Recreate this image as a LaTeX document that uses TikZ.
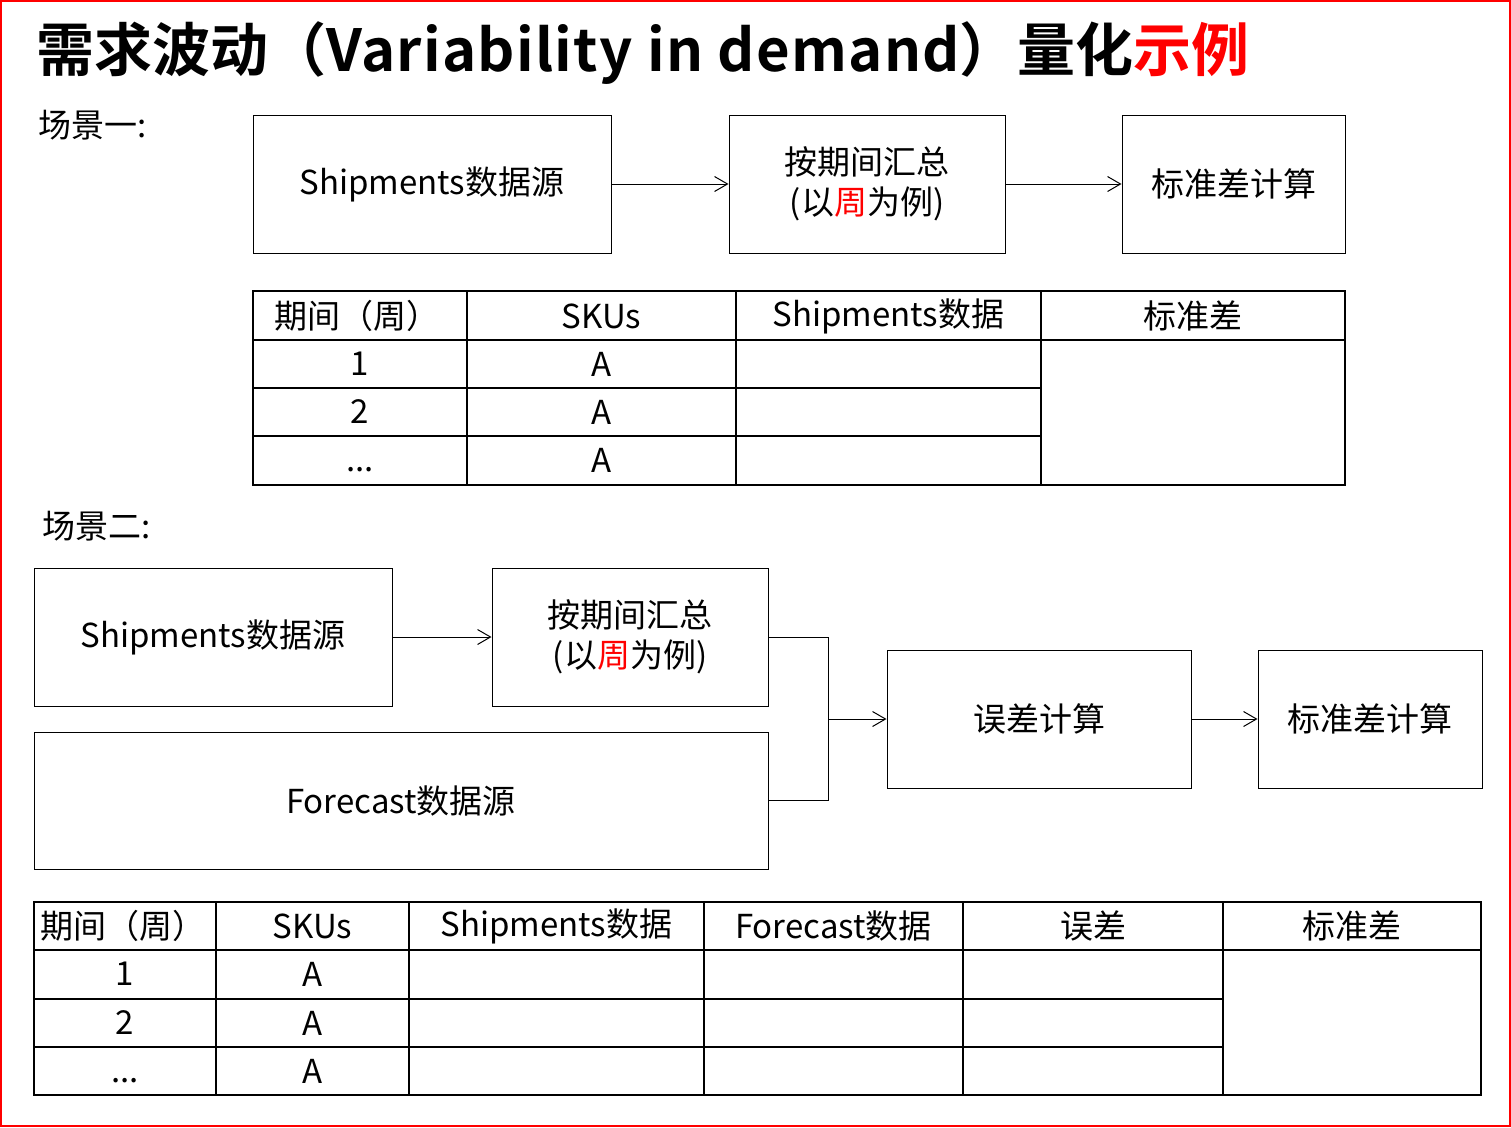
\documentclass[tikz,border=0pt]{standalone}
\usepackage{fontspec}
\setmainfont{Noto Sans CJK SC}[BoldFont={Noto Sans CJK SC Bold}]
\usetikzlibrary{arrows.meta}
\tikzset{
  box/.style={draw, line width=1pt, inner sep=0pt, align=center, font=\fontsize{33}{40}\selectfont},
  arr/.style={line width=1pt, -{Straight Barb[length=13pt,width=15pt,line width=1pt]}},
  grid/.style={line width=2pt},
  cell/.style={inner sep=0pt, font=\fontsize{33}{40}\selectfont},
  lbl/.style={inner sep=0pt, anchor=west, font=\fontsize{33}{40}\selectfont},
}
\begin{document}
\begin{tikzpicture}[x=1pt,y=-1pt]
\useasboundingbox (0,0) rectangle (1511,1127);
\draw[red, line width=2pt] (1,1) rectangle (1510,1126);
% title
\node[inner sep=0pt, anchor=west, font=\fontsize{58}{64}\selectfont\bfseries] (title) at (36,53)
  {需求波动（{\addfontfeatures{LetterSpace=2.2}Variability in demand}）量化\textcolor{red}{示例}};
% scenario 1
\node[lbl] (s1) at (38,125) {场景一:};
\node[box, minimum width=358pt, minimum height=138pt] (a1) at (432,184) {Shipments数据源};
\node[box, minimum width=276pt, minimum height=138pt] (b1) at (867,184) {按期间汇总\\(以\textcolor{red}{周}为例)};
\node[box, minimum width=223pt, minimum height=138pt] (c1) at (1233.5,184) {标准差计算};
\draw[arr] (a1) -- (b1);
\draw[arr] (b1) -- (c1);
% table 1
\draw[grid] (253,291) rectangle (1345,485);
\draw[grid] (253,340) -- (1345,340);
\draw[grid] (253,388) -- (1041,388);
\draw[grid] (253,436) -- (1041,436);
\foreach \x in {467,736,1041} \draw[grid] (\x,291) -- (\x,485);
\node[cell] (t1h1) at (357,316) {期间（周）};
\node[cell] (t1h2) at (601.5,316) {SKUs};
\node[cell] (t1h3) at (888.5,316) {Shipments数据};
\node[cell] (t1h4) at (1193,316) {标准差};
\node[cell] (t1r1) at (360,364) {1};
\node[cell] (t1r2) at (360,412) {2};
\node[cell] (t1r3) at (360,470) {...};
\node[cell] (t1a1) at (601.5,364) {A};
\node[cell] (t1a2) at (601.5,412) {A};
\node[cell] (t1a3) at (601.5,460) {A};
% scenario 2
\node[lbl] (s2) at (42,526) {场景二:};
\node[box, minimum width=358pt, minimum height=138pt] (a2) at (213,637) {Shipments数据源};
\node[box, minimum width=276pt, minimum height=138pt] (b2) at (630,637) {按期间汇总\\(以\textcolor{red}{周}为例)};
\node[box, minimum width=734pt, minimum height=137pt] (f2) at (401,800.5) {Forecast数据源};
\node[box, minimum width=304pt, minimum height=138pt] (e2) at (1039,719) {误差计算};
\node[box, minimum width=224pt, minimum height=138pt] (c2) at (1370,719) {标准差计算};
\coordinate (j) at (828,719);
\draw[arr] (a2) -- (b2);
\draw[line width=1pt] (b2.east) -- (828,637) |- (f2.east);
\draw[arr] (j) -- (e2);
\draw[arr] (e2) -- (c2);
% table 2
\draw[grid] (34,902) rectangle (1481,1095);
\draw[grid] (34,950) -- (1481,950);
\draw[grid] (34,999) -- (1223,999);
\draw[grid] (34,1047) -- (1223,1047);
\foreach \x in {216,409,704,963,1223} \draw[grid] (\x,902) -- (\x,1095);
\node[cell, anchor=west] (t2h1) at (40,926) {期间（周）};
\node[cell] (t2h2) at (312.5,926) {SKUs};
\node[cell] (t2h3) at (556.5,926) {Shipments数据};
\node[cell] (t2h4) at (833.5,926) {Forecast数据};
\node[cell] (t2h5) at (1093,926) {误差};
\node[cell] (t2h6) at (1352,926) {标准差};
\node[cell] (t2r1) at (125,974) {1};
\node[cell] (t2r2) at (125,1023) {2};
\node[cell] (t2r3) at (125,1081) {...};
\node[cell] (t2a1) at (312.5,974) {A};
\node[cell] (t2a2) at (312.5,1023) {A};
\node[cell] (t2a3) at (312.5,1071) {A};
\end{tikzpicture}
\end{document}
